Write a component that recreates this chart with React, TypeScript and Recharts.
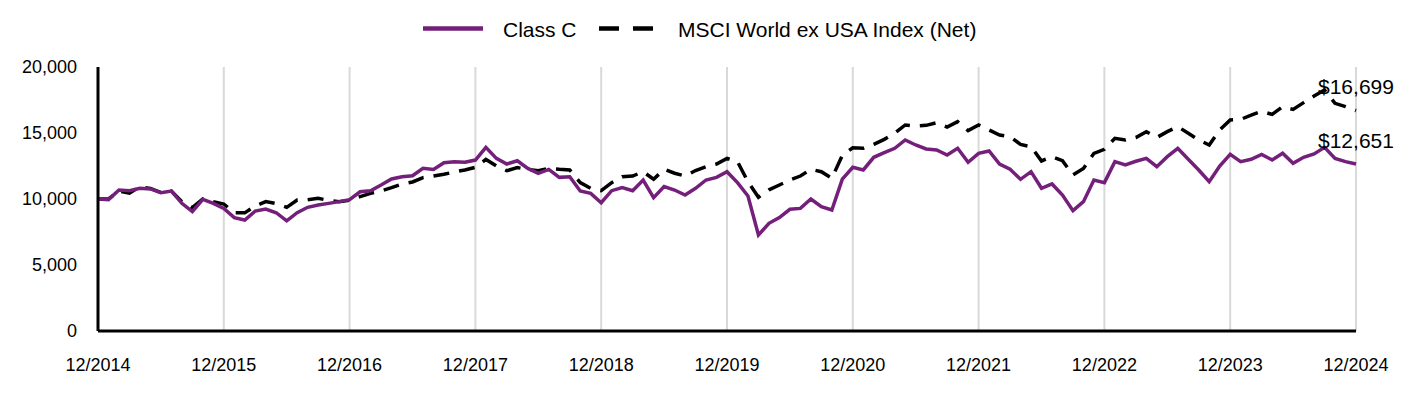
import { LineChart, Line, XAxis, YAxis, CartesianGrid } from 'recharts';

const classC = [
    10000, 9950, 10680, 10630, 10810, 10760, 10480, 10600, 9670, 9040, 9970, 9670,
    9290, 8590, 8410, 9090, 9240, 8960, 8350, 8960, 9370, 9550, 9670, 9800,
    9950, 10550, 10630, 11060, 11520, 11690, 11760, 12320, 12240, 12750, 12830, 12780,
    12950, 13910, 13080, 12650, 12900, 12320, 11940, 12240, 11640, 11690, 10610, 10430,
    9720, 10630, 10860, 10630, 11440, 10100, 10940, 10680, 10300, 10810, 11440, 11640,
    12070, 11240, 10230, 7270, 8160, 8590, 9220, 9290, 10000, 9420, 9170, 11500,
    12400, 12200, 13160, 13510, 13840, 14470, 14090, 13790, 13710, 13330, 13840, 12780,
    13460, 13640, 12650, 12250, 11490, 12070, 10810, 11140, 10300, 9120, 9800, 11440,
    11240, 12830, 12580, 12860, 13080, 12450, 13210, 13840, 13010, 12200, 11310, 12500,
    13380, 12830, 13010, 13380, 12960, 13460, 12700, 13160, 13410, 13910, 13080, 12830,
    12651,
];

const msciIndex = [
    10000, 10000, 10600, 10450, 10930, 10800, 10500, 10600, 9800, 9350, 10000, 9800,
    9620, 8960, 8950, 9470, 9800, 9650, 9370, 9920, 9950, 10050, 9900, 9800,
    9900, 10180, 10430, 10600, 10860, 11140, 11290, 11620, 11740, 11870, 12050, 12200,
    12400, 13000, 12500, 12140, 12380, 12240, 12140, 12320, 12250, 12200, 11240, 10800,
    10630, 11240, 11690, 11740, 12070, 11500, 12250, 11950, 11740, 12160, 12450, 12650,
    13080, 12830, 11310, 10130, 10690, 11060, 11440, 11740, 12250, 12070, 11570, 13300,
    13880, 13840, 14140, 14520, 14980, 15610, 15530, 15580, 15780, 15450, 15860, 15180,
    15610, 15230, 14850, 14720, 14140, 13960, 12880, 13210, 12900, 11820, 12320, 13460,
    13760, 14600, 14470, 14660, 15100, 14660, 15100, 15480, 14980, 14470, 14090, 15230,
    15990, 16030, 16360, 16640, 16410, 16990, 16790, 17300, 17800, 18260, 17250, 17000,
    16699,
];

const yearLabels = [
    '12/2014', '12/2015', '12/2016', '12/2017', '12/2018', '12/2019',
    '12/2020', '12/2021', '12/2022', '12/2023', '12/2024',
];

const yTicks = [0, 5000, 10000, 15000, 20000];

const PURPLE = '#74207a';
const FONT = '"Liberation Sans", Arial, sans-serif';

const data = classC.map((v, i) => ({ m: i, classC: v, index: msciIndex[i] }));
const xTicks = yearLabels.map((_, i) => i * 12);
const lastIdx = classC.length - 1;

// value tag next to the final point of each series
function EndLabel(props: any) {
    const { x, y, index, value } = props;
    if (index !== lastIdx) return null;
    return (
        <text x={x - 38} y={y - 24} fontSize={21} fontFamily={FONT} fill="#000" dominantBaseline="central">
            ${Number(value).toLocaleString('en-US')}
        </text>
    );
}

export default function App() {
    return (
        <div style={{ position: 'absolute', left: 0, top: 0, width: 1416, height: 396, background: '#fff', fontFamily: FONT }}>
            {/* legend */}
            <svg width={1416} height={40} style={{ position: 'absolute', left: 0, top: 9 }}>
                <line x1={423} x2={483} y1={19.5} y2={19.5} stroke={PURPLE} strokeWidth={4.5} />
                <text x={503} y={20} fontSize={21} fontFamily={FONT} dominantBaseline="central">Class C</text>
                <line x1={599} x2={653} y1={19.5} y2={19.5} stroke="#000" strokeWidth={4.5} strokeDasharray="20 14" />
                <text x={678} y={20} fontSize={21} fontFamily={FONT} dominantBaseline="central">MSCI World ex USA Index (Net)</text>
            </svg>
            <LineChart
                width={1416}
                height={396}
                data={data}
                margin={{ top: 67, right: 60, bottom: 0, left: 0 }}
            >
                <CartesianGrid horizontal={false} stroke="#d9d9d9" strokeWidth={2} />
                <XAxis
                    dataKey="m"
                    type="number"
                    domain={[0, lastIdx]}
                    ticks={xTicks}
                    tickFormatter={(v: number) => yearLabels[v / 12]}
                    axisLine={{ stroke: '#000', strokeWidth: 3 }}
                    tickLine={false}
                    tickSize={0}
                    tickMargin={27}
                    height={65}
                    interval={0}
                    tick={{ fill: '#000', fontSize: 18, fontFamily: FONT }}
                />
                <YAxis
                    domain={[0, 20000]}
                    ticks={yTicks}
                    tickFormatter={(v: number) => v.toLocaleString('en-US')}
                    axisLine={{ stroke: '#000', strokeWidth: 3 }}
                    tickLine={false}
                    tickSize={0}
                    tickMargin={21}
                    width={98}
                    interval={0}
                    tick={{ fill: '#000', fontSize: 18, fontFamily: FONT }}
                />
                <Line
                    type="linear"
                    dataKey="index"
                    stroke="#000"
                    strokeWidth={3.5}
                    strokeDasharray="16 10"
                    dot={false}
                    isAnimationActive={false}
                    label={<EndLabel />}
                />
                <Line
                    type="linear"
                    dataKey="classC"
                    stroke={PURPLE}
                    strokeWidth={3.5}
                    dot={false}
                    isAnimationActive={false}
                    label={<EndLabel />}
                />
            </LineChart>
        </div>
    );
}
